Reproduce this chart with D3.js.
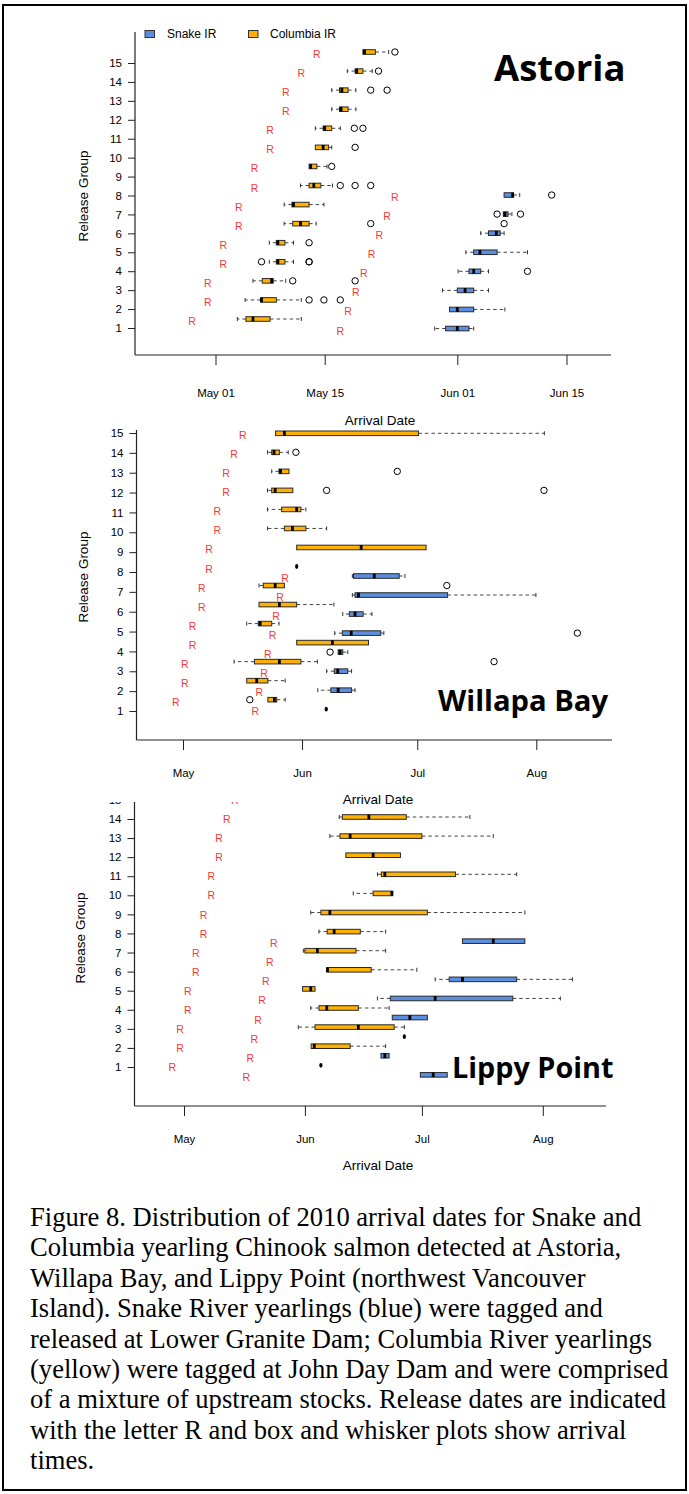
<!DOCTYPE html>
<html><head><meta charset="utf-8">
<script src="https://cdn.jsdelivr.net/npm/d3@7"></script>
<style>
body{margin:0;background:#fff;}
svg{display:block;}
</style></head><body>
<svg id="chart" width="689" height="1494"></svg>
<script>
// ================= DATA (days of year 2010; May 1 = 121) =================
const releaseGroups = [1,2,3,4,5,6,7,8,9,10,11,12,13,14,15];
const astoriaTickDays = [121,135,152,166];
const astoriaTickLabels = ["May 01","May 15","Jun 01","Jun 15"];
const monthTickDays = [121,152,182,213];
const monthTickLabels = ["May","Jun","Jul","Aug"];

// release dates (R markers), by release group
const releaseColumbia = [118,120,120,122,122,124,124,126,126,128,128,130,130,132,134];
const releaseSnake = [137,138,139,140,141,142,143,144];
const willapaReleaseColumbia = [119.1,121.5,121.5,123.5,123.5,125.9,125.9,127.8,127.8,129.9,129.9,132.2,132.2,134.3,136.6];
const willapaReleaseSnake = [139.8,140.9,142.1,143.1,144.3,145.2,146.3,147.6];

// box stats: [group, lowWhisker, q1, median, q3, highWhisker]
const astoriaColumbia = [
  [1,123.8,124.9,125.8,128.0,132.0],[2,124.8,126.8,126.9,128.8,132.0],[3,125.8,127.0,128.2,128.4,130.0],
  [4,127.9,128.8,129.0,129.9,131.0],[5,127.9,128.8,129.0,129.9,131.0],[6,129.8,130.9,131.9,133.0,133.9],
  [7,129.8,130.8,131.0,133.0,134.9],[8,131.9,133.0,133.6,134.5,136.0],[9,133.0,133.0,133.2,134.0,135.3],
  [10,133.8,133.8,134.8,135.5,135.9],[11,133.8,134.8,135.0,135.9,137.0],[12,135.9,136.9,137.1,138.0,139.0],
  [13,135.9,136.9,137.2,138.0,139.0],[14,137.9,138.9,139.1,139.9,141.1],[15,139.9,139.9,140.1,141.5,143.2]
];
const astoriaColumbiaOutliers = [
  [2,133.0],[2,134.9],[2,137.0],[3,130.9],[3,138.9],[4,126.9],[4,133.0],[4,133.0],[5,133.0],
  [6,140.9],[6,158.0],[8,137.0],[8,138.9],[8,140.9],[9,135.9],[10,138.9],[11,138.8],[11,139.9],
  [13,140.9],[13,143.0],[14,141.9],[15,144.0]
];
const astoriaSnake = [
  [1,149.1,150.5,152.0,153.5,154.1],[2,151.0,151.0,152.0,154.1,158.1],[3,150.1,152.0,153.0,154.1,156.0],
  [4,152.1,153.5,154.1,155.0,156.0],[5,153.1,154.1,154.9,157.1,161.0],[6,155.0,156.0,157.0,157.5,158.0],
  [7,157.9,157.9,158.1,158.5,159.0],[8,158.0,158.0,159.1,159.2,160.0]
];
const astoriaSnakeOutliers = [[4,161.0],[7,157.1],[7,160.1],[8,164.1]];

const willapaColumbia = [
  [1,143.1,143.1,144.8,145.4,147.6],[2,137.6,137.6,140.2,143.1,147.6],[3,134.3,139.6,146.1,151.7,156.0],
  [4,150.6,150.6,159.9,169.3,169.3],[5,137.6,140.6,141.1,144.1,146.0],[6,140.8,140.8,146.1,150.6,160.3],
  [7,140.8,141.9,145.0,147.4,147.4],[8,150.6,150.6,150.6,150.6,150.6],[9,150.6,150.6,167.4,184.3,184.3],
  [10,143.0,147.4,149.5,153.0,158.4],[11,143.0,146.7,150.6,151.7,153.0],[12,143.0,144.1,145.0,149.6,149.6],
  [13,144.1,146.0,146.4,148.6,148.6],[14,143.0,144.1,144.7,146.1,148.4],[15,145.1,145.1,147.4,182.3,215.1]
];
const willapaColumbiaOutliers = [[1,138.4],[3,202.0],[7,189.7],[12,158.4],[12,215.0],[13,176.8],[14,150.4]];
const willapaSnake = [
  [1,158.3,158.3,158.3,158.3,158.3],[2,156.1,159.5,161.4,164.9,165.8],[3,158.4,160.4,161.3,163.9,164.9],
  [4,161.4,161.4,161.9,162.6,163.9],[5,160.5,162.5,164.8,172.5,173.3],[6,162.6,164.3,165.8,167.9,170.2],
  [7,165.1,165.8,166.7,189.9,212.9],[8,165.1,165.4,170.8,177.3,178.8]
];
const willapaSnakeOutliers = [[4,159.3],[5,223.7]];

const lippyColumbia = [
  [1,156.1,156.1,156.1,156.1,156.1],[2,153.6,153.6,154.4,163.6,172.7],[3,150.3,154.6,165.7,174.9,177.5],
  [4,153.5,155.6,157.6,165.7,173.6],[5,151.4,151.4,153.5,154.6,154.6],[6,157.6,157.6,157.8,169.0,180.7],
  [7,151.6,152.0,155.2,165.1,172.7],[8,155.6,157.7,159.5,166.2,172.7],[9,153.5,156.1,158.4,183.4,208.4],
  [10,164.4,169.5,174.3,174.5,174.5],[11,170.6,171.6,172.5,190.6,206.3],[12,162.5,162.5,169.5,176.5,176.5],
  [13,158.4,161.0,163.6,182.0,200.3],[14,160.8,161.6,168.4,178.0,194.3]
];
const lippySnake = [
  [1,181.6,181.6,184.9,188.5,188.5],[2,171.5,171.5,172.5,173.6,173.6],[3,177.5,177.5,177.5,177.5,177.5],
  [4,174.4,174.4,178.9,183.4,183.4],[5,170.6,173.9,185.4,205.3,217.5],[6,185.4,189.0,192.4,206.3,220.6],
  [8,192.4,192.4,200.3,208.4,208.4]
];

const legendItems = ["Snake IR","Columbia IR"];
const captionLines = [
  "Figure 8. Distribution of 2010 arrival dates for Snake and",
  "Columbia yearling Chinook salmon detected at Astoria,",
  "Willapa Bay, and Lippy Point (northwest Vancouver",
  "Island). Snake River yearlings (blue) were tagged and",
  "released at Lower Granite Dam; Columbia River yearlings",
  "(yellow) were tagged at John Day Dam and were comprised",
  "of a mixture of upstream stocks. Release dates are indicated",
  "with the letter R and box and whisker plots show arrival",
  "times."
];

// ================= STYLE =================
const COL = "#ffb000", SNK = "#5b8ee0", RED = "#f23a3a";
const SANS = "'Liberation Sans', Arial, sans-serif";
const BOX_H = 4.6;

const svg = d3.select("#chart");
svg.append("rect").attr("x",3).attr("y",5).attr("width",683).attr("height",1485)
  .attr("fill","none").attr("stroke","#000").attr("stroke-width",2);

function drawBoxes(g, x, y, data, outliers, offset, color) {
  const rows = data.map(d => ({g:d[0], lo:d[1], q1:d[2], med:d[3], q3:d[4], hi:d[5]}));
  const multi = rows.filter(r => r.q3 > r.q1);
  const single = rows.filter(r => !(r.q3 > r.q1));
  const wh = [];
  rows.forEach(r => {
    if (r.hi > r.q3) wh.push({g:r.g, a:r.q3, b:r.hi});
    if (r.lo < r.q1) wh.push({g:r.g, a:r.q1, b:r.lo});
  });
  g.selectAll(null).data(wh).join("line")
    .attr("x1", d => x(d.a)).attr("x2", d => x(d.b))
    .attr("y1", d => y(d.g + offset)).attr("y2", d => y(d.g + offset))
    .attr("stroke","#444").attr("stroke-width",1).attr("stroke-dasharray","3.5,3");
  g.selectAll(null).data(wh).join("line")
    .attr("x1", d => x(d.b)).attr("x2", d => x(d.b))
    .attr("y1", d => y(d.g + offset) - 2).attr("y2", d => y(d.g + offset) + 2)
    .attr("stroke","#333").attr("stroke-width",1);
  g.selectAll(null).data(multi).join("rect")
    .attr("x", d => x(d.q1)).attr("width", d => x(d.q3) - x(d.q1))
    .attr("y", d => y(d.g + offset) - BOX_H/2).attr("height", BOX_H)
    .attr("fill", color).attr("stroke","#2a2a2a").attr("stroke-width",1);
  g.selectAll(null).data(multi).join("rect")
    .attr("x", d => x(d.med) - 1.4).attr("width", 2.8)
    .attr("y", d => y(d.g + offset) - BOX_H/2).attr("height", BOX_H)
    .attr("fill","#000");
  g.selectAll(null).data(single).join("ellipse")
    .attr("cx", d => x(d.med)).attr("cy", d => y(d.g + offset))
    .attr("rx", 1.6).attr("ry", 2.4).attr("fill","#000");
  if (outliers) {
    g.selectAll(null).data(outliers).join("circle")
      .attr("cx", d => x(d[1])).attr("cy", d => y(d[0] + offset))
      .attr("r", 3.2).attr("fill","none").attr("stroke","#000").attr("stroke-width",1);
  }
}

function drawRs(g, x, y, dates, offset) {
  g.selectAll(null).data(dates).join("text")
    .attr("x", d => x(d)).attr("y", (d,i) => y(i + 1 + offset) + 2)
    .attr("text-anchor","middle").attr("dominant-baseline","central")
    .attr("font-family", SANS).attr("font-size", 10.5).attr("fill", RED)
    .text("R");
}

function drawPanel(p) {
  const g = svg.append("g");
  if (p.clipTop != null) {
    const id = "clip" + p.name.replace(/\s/g,"");
    svg.append("defs").append("clipPath").attr("id", id)
      .append("rect").attr("x",0).attr("y",p.clipTop).attr("width",689).attr("height",400);
    g.attr("clip-path", `url(#${id})`);
  }
  const x = d3.scaleLinear().domain(p.xCal).range(p.xPix);
  const y = d3.scaleLinear().domain([1,15]).range([p.colY1, p.colY15]);
  const yLab = d3.scaleLinear().domain([1,15]).range([p.labY1, p.labY15]);

  g.append("line").attr("x1",p.left).attr("x2",p.left).attr("y1",p.top).attr("y2",p.bottom)
    .attr("stroke","#222").attr("stroke-width",1.2);
  g.append("line").attr("x1",p.left).attr("x2",p.right).attr("y1",p.bottom).attr("y2",p.bottom)
    .attr("stroke","#222").attr("stroke-width",1.2);

  const ya = g.append("g").attr("transform",`translate(${p.left},0)`)
    .call(d3.axisLeft(yLab).tickValues(releaseGroups).tickSize(7).tickPadding(6));
  ya.select(".domain").remove();
  ya.attr("font-family", SANS).attr("font-size", 11.5);
  ya.selectAll("line").attr("stroke","#222");
  ya.selectAll("text").attr("fill","#000");

  const xa = g.append("g").attr("transform",`translate(0,${p.bottom})`)
    .call(d3.axisBottom(x).tickValues(p.tickDays).tickFormat((d,i) => p.tickLabels[i])
      .tickSize(10).tickPadding(p.tickPad));
  xa.select(".domain").remove();
  xa.attr("font-family", SANS).attr("font-size", 11.5);
  xa.selectAll("line").attr("stroke","#222");
  xa.selectAll("text").attr("fill","#000");

  svg.append("text").attr("x", p.xTitleX).attr("y", p.xTitleY)
    .attr("text-anchor","middle").attr("dominant-baseline","central")
    .attr("font-family", SANS).attr("font-size", 13.5).text("Arrival Date");
  g.append("text").attr("transform", `translate(${p.yTitleX},${p.yTitleY}) rotate(-90)`)
    .attr("text-anchor","middle").attr("dominant-baseline","central")
    .attr("font-family", SANS).attr("font-size", 13.5).text("Release Group");

  drawRs(g, x, y, p.relCol, 0);
  drawRs(g, x, y, p.relSnk, -0.5);
  drawBoxes(g, x, y, p.col, p.colOut, 0, COL);
  drawBoxes(g, x, y, p.snk, p.snkOut, -0.5, SNK);

  g.append("text").attr("x", p.titleX).attr("y", p.titleY)
    .attr("font-family","'Open Sans', sans-serif").attr("font-weight",700)
    .attr("font-size", p.titleSize).attr("fill","#000").text(p.name);
}

drawPanel({
  name:"Astoria", left:135, right:611, top:32, bottom:355,
  xCal:[121,166], xPix:[215.5,566.5],
  colY1:319, colY15:52, labY1:328, labY15:63,
  tickDays:astoriaTickDays, tickLabels:astoriaTickLabels, tickPad:24,
  xTitleX:380, xTitleY:420, yTitleX:83, yTitleY:196,
  relCol:releaseColumbia, relSnk:releaseSnake,
  col:astoriaColumbia, colOut:astoriaColumbiaOutliers, snk:astoriaSnake, snkOut:astoriaSnakeOutliers,
  titleX:494, titleY:81, titleSize:36.5
});
drawPanel({
  name:"Willapa Bay", left:136.5, right:612, top:430, bottom:740,
  xCal:[121,213], xPix:[183,536.3],
  colY1:699.7, colY15:433.3, labY1:711, labY15:433,
  tickDays:monthTickDays, tickLabels:monthTickLabels, tickPad:19,
  xTitleX:378, xTitleY:799, yTitleX:83, yTitleY:577,
  relCol:willapaReleaseColumbia, relSnk:willapaReleaseSnake,
  col:willapaColumbia, colOut:willapaColumbiaOutliers, snk:willapaSnake, snkOut:willapaSnakeOutliers,
  titleX:438, titleY:711, titleSize:29.2
});
drawPanel({
  name:"Lippy Point", left:134.5, right:606, top:802, bottom:1106, clipTop:802,
  xCal:[121,213], xPix:[184,542.8],
  colY1:1065.3, colY15:797.9, labY1:1067, labY15:799.9,
  tickDays:monthTickDays, tickLabels:monthTickLabels, tickPad:19,
  xTitleX:378, xTitleY:1165, yTitleX:80, yTitleY:938,
  relCol:releaseColumbia, relSnk:releaseSnake,
  col:lippyColumbia, colOut:null, snk:lippySnake, snkOut:null,
  titleX:452, titleY:1078, titleSize:28.8
});

// legend (Astoria)
const lg = svg.append("g");
lg.selectAll(null).data(legendItems).join("rect")
  .attr("x", (d,i) => [145,248.5][i]).attr("y", 30.5).attr("width", 9.5).attr("height", 7)
  .attr("fill", (d,i) => [SNK, COL][i]).attr("stroke","#333").attr("stroke-width",1);
lg.selectAll(null).data(legendItems).join("text")
  .attr("x", (d,i) => [167,270][i]).attr("y", 34).attr("dominant-baseline","central")
  .attr("font-family", SANS).attr("font-size", 12).text(d => d);

// caption
const cap = svg.append("g").attr("font-family","'Liberation Serif','Times New Roman',serif").attr("font-size",20);
const capT = cap.selectAll(null).data(captionLines).join("text")
  .attr("x", 30).attr("y", (d,i) => 1226 + i*30.4).text(d => d);
const w1 = capT.nodes()[0].getComputedTextLength();
const w7 = capT.nodes()[6].getComputedTextLength();
const fs = 20 * ((610 / w1) + (638 / w7)) / 2;
cap.attr("font-size", fs);
</script>
</body></html>
